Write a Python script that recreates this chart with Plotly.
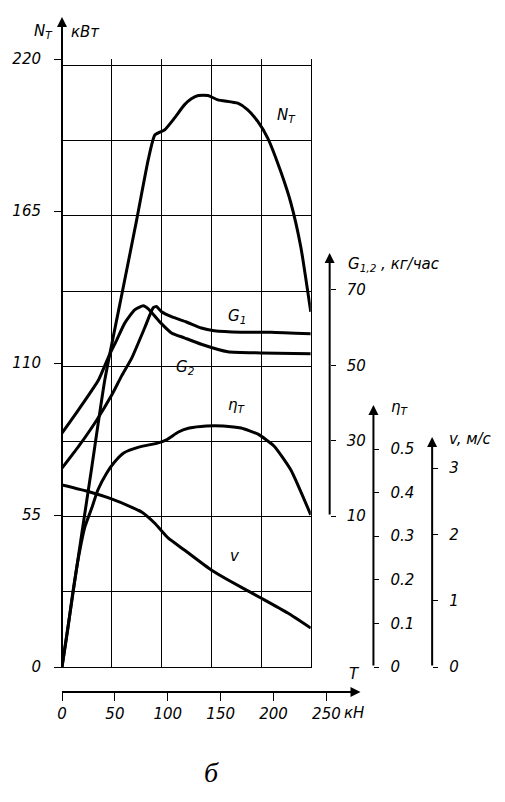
import plotly.graph_objects as go

# ---------------- data ----------------
# Tractive effort T, kN (shared x)
nt_T = [0, 9.4, 18.8, 28.2, 40.5, 57.4, 70.6, 81.5, 87.8, 96.9, 106.3, 115.7, 122.3, 128.9,
        138.0, 147.4, 166.2, 175.6, 185.1, 194.5, 207.0, 216.4, 225.8, 235.2]
nt_val = [0, 24.2, 48.5, 72.4, 103.9, 136.4, 161.8, 183.5, 192.5, 194.3, 198.6, 203.4, 205.6, 206.8,
          206.8, 205.2, 204.0, 201.6, 197.4, 191.4, 179.1, 167.9, 152.0, 128.5]

g1_T = [0, 16.0, 32.9, 47.0, 56.4, 65.9, 78.1, 86.3, 89.4, 94.1, 103.5, 117.6, 131.7, 143.9,
        169.3, 197.6, 235.2]
g1_val = [22.7, 28.6, 35.5, 42.1, 47.2, 51.9, 59.9, 65.3, 65.6, 64.2, 62.9, 61.5, 59.9, 59.2,
          58.8, 58.8, 58.4]

g2_T = [0, 16.9, 34.5, 43.9, 51.7, 59.3, 68.7, 76.9, 81.6, 92.2, 103.5, 115.7, 131.7, 156.8,
        188.1, 235.2]
g2_val = [32.0, 38.7, 46.1, 52.2, 56.7, 61.2, 64.7, 65.8, 65.0, 61.6, 58.6, 57.3, 55.6, 53.6,
          53.3, 53.1]

eta_T = [0, 5.6, 10.3, 16.0, 21.6, 28.2, 33.9, 42.3, 48.9, 58.3, 73.4, 89.4, 98.8, 110.1,
         120.4, 136.4, 152.4, 169.3, 185.3, 200.4, 216.4, 235.2]
eta_val = [0, 0.089, 0.172, 0.257, 0.321, 0.365, 0.406, 0.445, 0.468, 0.491, 0.505, 0.513, 0.521,
           0.539, 0.548, 0.553, 0.553, 0.548, 0.534, 0.507, 0.452, 0.349]

v_T = [0, 26.3, 44.2, 67.7, 75.3, 87.5, 100.3, 115.7, 141.1, 157.1, 188.1, 213.5, 235.2]
v_val = [2.745, 2.64, 2.55, 2.398, 2.338, 2.172, 1.946, 1.765, 1.463, 1.312, 1.041, 0.814, 0.588]

n_ticks = [0, 55, 110, 165, 220]
g_ticks = [10, 30, 50, 70]
eta_ticks = [0, 0.1, 0.2, 0.3, 0.4, 0.5]
v_ticks = [0, 1, 2, 3]
t_ticks = [0, 50, 100, 150, 200, 250]

# ---------------- figure ----------------
FONT = dict(family="DejaVu Sans", size=15, color="black", style="italic")
W, H = 505, 802
ML, MR, MT, MB = 60, 45, 59, 110
PW, PH = W - ML - MR, H - MT - MB


def xp(px):
    return (px - ML) / PW


def yp(py):
    return (H - MB - py) / PH


ydom0 = yp(667)

fig = go.Figure()
line = dict(color="black", width=3, shape="spline", smoothing=0.5)
fig.add_trace(go.Scatter(x=nt_T, y=nt_val, mode="lines", line=line, yaxis="y", hoverinfo="skip"))
fig.add_trace(go.Scatter(x=g1_T, y=g1_val, mode="lines", line=line, yaxis="y2", hoverinfo="skip"))
fig.add_trace(go.Scatter(x=g2_T, y=g2_val, mode="lines", line=line, yaxis="y2", hoverinfo="skip"))
fig.add_trace(go.Scatter(x=eta_T, y=eta_val, mode="lines", line=line, yaxis="y3", hoverinfo="skip"))
fig.add_trace(go.Scatter(x=v_T, y=v_val, mode="lines", line=line, yaxis="y4", hoverinfo="skip"))
# invisible trace to instantiate the separate bottom T axis
fig.add_trace(go.Scatter(x=[0], y=[0], mode="markers", marker=dict(opacity=0),
                         xaxis="x2", yaxis="y5", hoverinfo="skip"))

xmax = 235.2
fig.update_layout(
    width=W, height=H,
    margin=dict(l=ML, r=MR, t=MT, b=MB),
    paper_bgcolor="white", plot_bgcolor="rgba(0,0,0,0)",
    showlegend=False,
    font=FONT,
    xaxis=dict(domain=[0, xp(310)], range=[0, xmax], showgrid=True, gridcolor="black", gridwidth=1,
               tick0=0, dtick=xmax / 5, showticklabels=False, ticks="", zeroline=False,
               showline=True, linecolor="black", linewidth=1, anchor="y"),
    xaxis2=dict(domain=[0, 1], range=[0, PW / 1.063], anchor="free", position=0, side="bottom",
                tickvals=t_ticks, ticks="outside", ticklen=8, tickcolor="black", tickwidth=1,
                showgrid=False, zeroline=False, showline=False, tickfont=FONT,
                ticklabelstandoff=0),
    yaxis=dict(domain=[ydom0, 1], range=[0, 220], tickvals=n_ticks, ticks="outside", ticklen=7,
               tickcolor="black", tickwidth=1, showgrid=False, zeroline=False,
               showline=True, mirror=True, linecolor="black", linewidth=1,
               minor=dict(tick0=0, dtick=27.2, showgrid=True, gridcolor="black", gridwidth=1, ticks=""),
               tickfont=FONT, ticklabelstandoff=10, anchor="x"),
    yaxis2=dict(overlaying="y", anchor="free", position=xp(329), side="right",
                range=[10 - (667 - 516) / 3.767, 10 + (516 - 59) / 3.767], tickvals=g_ticks,
                ticks="outside", ticklen=5, tickcolor="black", showgrid=False, zeroline=False,
                showline=False, tickfont=FONT, ticklabelstandoff=8),
    yaxis3=dict(overlaying="y", anchor="free", position=xp(373), side="right",
                range=[0, 608 / 436], tickvals=eta_ticks,
                ticks="outside", ticklen=5, tickcolor="black", showgrid=False, zeroline=False,
                showline=False, tickfont=FONT, ticklabelstandoff=8),
    yaxis4=dict(overlaying="y", anchor="free", position=xp(432), side="right",
                range=[0, 608 / 66.3], tickvals=v_ticks,
                ticks="outside", ticklen=5, tickcolor="black", showgrid=False, zeroline=False,
                showline=False, tickfont=FONT, ticklabelstandoff=8),
    yaxis5=dict(domain=[0, 0.01], anchor="x2", visible=False, range=[1, 2]),
)

# axis arrows
arrows = [
    (60, 17, 0, 650),     # N_T axis
    (360, 692, -300, 0),  # T axis
    (329, 253, 0, 263),   # G axis
    (373, 405, 0, 262),   # eta axis
    (432, 437, 0, 230),   # v axis
]
for px, py, ax, ay in arrows:
    fig.add_annotation(x=xp(px), y=yp(py), xref="paper", yref="paper", text="",
                       showarrow=True, ax=ax, ay=ay, axref="pixel", ayref="pixel",
                       arrowhead=2, arrowsize=1, arrowwidth=2, arrowcolor="black", standoff=0)

texts = [
    ("N<sub>T</sub>", 53, 32, "right"),
    ("кВт", 67, 32, "left"),
    ("N<sub>T</sub>", 286, 115, "center"),
    ("G<sub>1</sub>", 236, 316, "center"),
    ("G<sub>2</sub>", 184, 367, "center"),
    ("η<sub>T</sub>", 236, 405, "center"),
    ("v", 234, 556, "center"),
    ("G<sub>1,2</sub> , кг/час", 345, 264, "left"),
    ("η<sub>T</sub>", 389, 407, "left"),
    ("v, м/с", 447, 439, "left"),
    ("T", 354, 674, "center"),
    ("кН", 341, 713, "left"),
]
for t, px, py, anc in texts:
    fig.add_annotation(x=xp(px), y=yp(py), xref="paper", yref="paper", text=t, showarrow=False,
                       xanchor=anc, yanchor="middle", font=FONT)

fig.add_annotation(x=xp(210), y=yp(773), xref="paper", yref="paper", text="б", showarrow=False,
                   xanchor="center", yanchor="middle",
                   font=dict(family="Liberation Serif", size=28, color="black", style="italic"))

fig.write_html("out.html", config={"displayModeBar": False},
               post_script="document.body.style.margin='0';")
